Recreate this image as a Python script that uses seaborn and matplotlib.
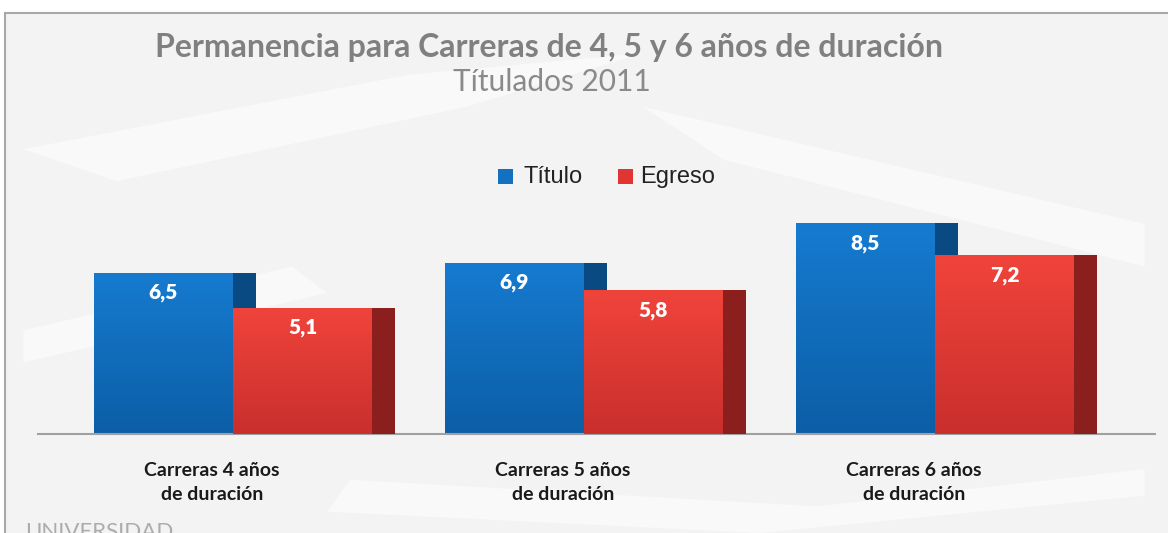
import numpy as np
import seaborn as sns
import matplotlib.pyplot as plt
from matplotlib.colors import LinearSegmentedColormap
from matplotlib.patches import Rectangle, Polygon

# Data
categorias = ["Carreras 4 años\nde duración", "Carreras 5 años\nde duración", "Carreras 6 años\nde duración"]
titulo = [6.5, 6.9, 8.5]
egreso = [5.1, 5.8, 7.2]
etiquetas_titulo = ["6,5", "6,9", "8,5"]
etiquetas_egreso = ["5,1", "5,8", "7,2"]

sns.set_theme(style="white")
plt.rcParams["font.family"] = ["Lato", "DejaVu Sans"]

fig = plt.figure(figsize=(11.68, 5.33), dpi=100)
fig.patch.set_facecolor("white")

# frame + faint background
frame = Rectangle((5 / 1168, -0.01), 1.0, (533 - 13) / 533 + 0.01, transform=fig.transFigure,
                  facecolor="#f3f3f3", edgecolor="#a8a8a8", lw=1.5, zorder=-2)
fig.patches.append(frame)
# watermark-like light bands
bands = [
    [(0.02, 0.72), (0.35, 0.86), (0.55, 0.9), (0.40, 0.80), (0.10, 0.66)],
    [(0.55, 0.80), (0.98, 0.58), (0.98, 0.50), (0.62, 0.70)],
    [(0.30, 0.10), (0.70, 0.05), (0.98, 0.12), (0.98, 0.07), (0.65, 0.0), (0.28, 0.04)],
    [(0.02, 0.38), (0.25, 0.50), (0.28, 0.45), (0.02, 0.32)],
]
for pts in bands:
    fig.patches.append(Polygon(pts, closed=True, transform=fig.transFigure,
                               facecolor="white", alpha=0.5, lw=0, zorder=-1))

ax = fig.add_axes([38 / 1168, (533 - 434) / 533, (1155 - 38) / 1168, 248 / 533])
ax.set_facecolor("none")
ax.set_zorder(2)

x = np.arange(len(categorias))
face_w = 0.396
side_w = 0.0655
off_t = -0.336
off_e = 0.06

blue_cmap = LinearSegmentedColormap.from_list("b", ["#0c5ea6", "#167bd0"])
red_cmap = LinearSegmentedColormap.from_list("r", ["#c92f2d", "#f0443b"])
grad = np.linspace(0, 1, 256).reshape(-1, 1)


def draw_series(vals, offset, cmap, side_color, z):
    sides = ax.bar(x + offset + face_w, vals, width=side_w, align="edge",
                   color=side_color, lw=0, zorder=z)
    faces = ax.bar(x + offset, vals, width=face_w, align="edge",
                   color="none", lw=0, zorder=z + 0.1)
    for rect in faces:
        x0, w, h = rect.get_x(), rect.get_width(), rect.get_height()
        clip = Rectangle((x0, 0), w, h, transform=ax.transData, facecolor="none", lw=0)
        ax.add_patch(clip)
        im = ax.imshow(grad, extent=[x0, x0 + w, 0, h], origin="lower", cmap=cmap,
                       aspect="auto", zorder=z + 0.2)
        im.set_clip_path(clip)
    return sides, faces


draw_series(titulo, off_t, blue_cmap, "#0a4a82", 2)
draw_series(egreso, off_e, red_cmap, "#8a1f1d", 3)

for i in range(len(categorias)):
    ax.text(x[i] + off_t + face_w / 2, titulo[i] - 0.8, etiquetas_titulo[i], color="white",
            fontsize=15, fontweight="heavy", ha="center", va="center", zorder=5)
    ax.text(x[i] + off_e + face_w / 2, egreso[i] - 0.8, etiquetas_egreso[i], color="white",
            fontsize=15, fontweight="heavy", ha="center", va="center", zorder=5)

ax.set_xlim(-0.4957, 2.687)
ax.set_ylim(0, 10)
ax.set_yticks([])
ax.set_xticks(x)
ax.set_xticklabels(categorias, fontsize=14, fontweight="bold", color="#1a1a1a",
                   linespacing=1.55)
ax.tick_params(axis="x", length=0, pad=20)
for s in ["top", "right", "left"]:
    ax.spines[s].set_visible(False)
ax.spines["bottom"].set_color("#a0a0a0")
ax.spines["bottom"].set_linewidth(1.5)

# titles
fig.text(549 / 1168, 1 - 47 / 533, "Permanencia para Carreras de 4, 5 y 6 años de duración",
         ha="center", va="center", fontsize=23, fontweight="bold", color="#808080")
fig.text(552 / 1168, 1 - 82 / 533, "Títulados 2011", ha="center", va="center",
         fontsize=21.5, color="#8a8a8a")

# legend
fig.patches.append(Rectangle((498 / 1168, 1 - 184 / 533), 15 / 1168, 15 / 533,
                             transform=fig.transFigure, facecolor="#1470c0", lw=0))
fig.text(523 / 1168, 1 - 177 / 533, "Título", ha="left", va="center", fontsize=17,
         color="#222222", family=["Liberation Sans", "DejaVu Sans"])
fig.patches.append(Rectangle((618 / 1168, 1 - 184 / 533), 15 / 1168, 15 / 533,
                             transform=fig.transFigure, facecolor="#e03532", lw=0))
fig.text(640 / 1168, 1 - 177 / 533, "Egreso", ha="left", va="center", fontsize=17,
         color="#222222", family=["Liberation Sans", "DejaVu Sans"])

# cut-off logo text at the bottom
fig.text(25 / 1168, 1 - 522 / 533, "UNIVERSIDAD", ha="left", va="top", fontsize=16,
         color="#9a9a9a", alpha=0.8)

fig.savefig("out.png", dpi=100)
